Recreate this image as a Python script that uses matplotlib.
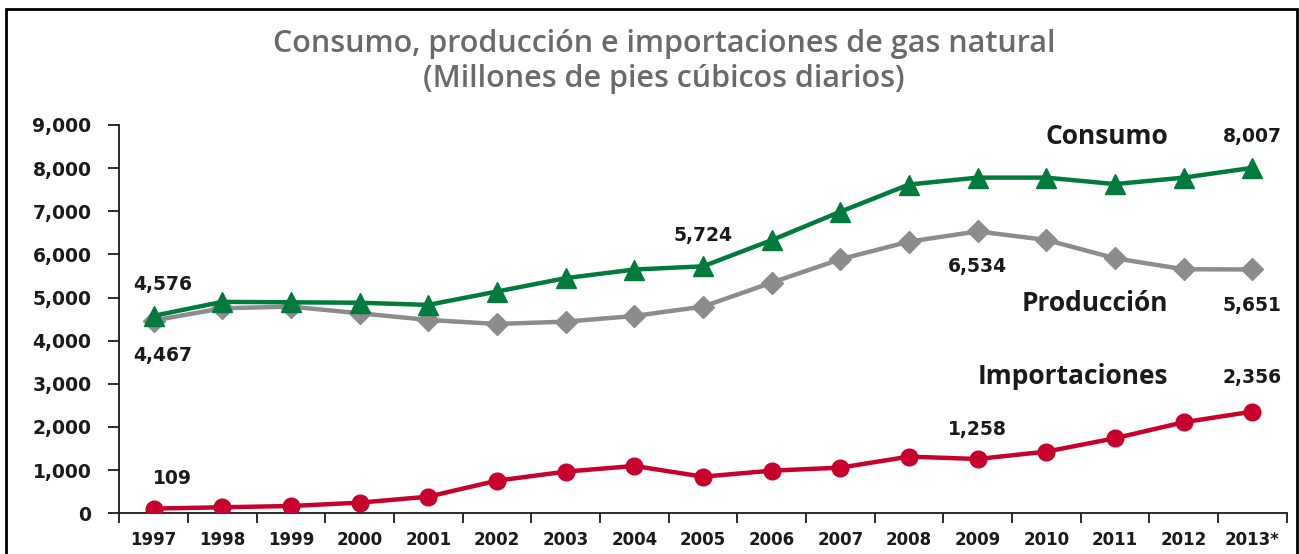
import matplotlib

matplotlib.use("Agg")

import matplotlib.pyplot as plt  # noqa: E402
from matplotlib.patches import Rectangle  # noqa: E402
from matplotlib.ticker import FixedLocator, FuncFormatter  # noqa: E402

plt.rcParams["font.family"] = ["DejaVu Sans"]

years = ["1997", "1998", "1999", "2000", "2001", "2002", "2003", "2004", "2005",
         "2006", "2007", "2008", "2009", "2010", "2011", "2012", "2013*"]
consumo = [4576, 4900, 4890, 4880, 4830, 5140, 5450, 5650, 5724,
           6330, 6990, 7620, 7780, 7780, 7630, 7780, 8007]
produccion = [4467, 4752, 4790, 4636, 4481, 4388, 4442, 4573, 4790,
              5346, 5888, 6296, 6534, 6335, 5911, 5656, 5651]
importaciones = [109, 139, 169, 246, 385, 756, 965, 1097, 849,
                 988, 1058, 1313, 1258, 1429, 1739, 2110, 2356]

GREEN = "#007a3d"
GREY = "#8c8c8c"
RED = "#c8002d"
TITLE_GREY = "#6a6a6a"
INK = "#1a1a1a"

fig = plt.figure(figsize=(12.99, 5.54), dpi=100)
ax = fig.add_axes([0.0918, 0.0735, 0.8987, 0.7009])

x = list(range(len(years)))
ax.plot(x, produccion, color=GREY, lw=3.2, marker="D", ms=11.5, zorder=2)
ax.plot(x, consumo, color=GREEN, lw=3.2, marker="^", ms=14, zorder=3)
ax.plot(x, importaciones, color=RED, lw=3.2, marker="o", ms=12, zorder=3)

ax.set_xlim(-0.5, len(years) - 0.5)
ax.set_ylim(0, 9000)

# ticks between the categories, labels in the middle
ax.xaxis.set_major_locator(FixedLocator([i - 0.5 for i in range(len(years) + 1)]))
ax.xaxis.set_minor_locator(FixedLocator(x))
ax.xaxis.set_major_formatter(FuncFormatter(lambda v, p: ""))
ax.xaxis.set_minor_formatter(FuncFormatter(lambda v, p: years[int(round(v))]))
ax.tick_params(axis="x", which="major", length=7.5, width=1.3, color=INK)
ax.tick_params(axis="x", which="minor", length=0, pad=13, labelsize=12,
               labelcolor=INK)
for lab in ax.get_xticklabels(minor=True):
    lab.set_fontweight("bold")

ax.set_yticks(range(0, 9001, 1000))
ax.yaxis.set_major_formatter(FuncFormatter(lambda v, p: f"{int(v):,}"))
ax.tick_params(axis="y", length=8, width=1.3, color=INK, pad=12,
               labelsize=13.5, labelcolor=INK)
for lab in ax.get_yticklabels():
    lab.set_fontweight("bold")

for side in ("top", "right"):
    ax.spines[side].set_visible(False)
for side in ("left", "bottom"):
    ax.spines[side].set_color(INK)
    ax.spines[side].set_linewidth(1.3)

num_style = dict(fontsize=13.5, fontweight="bold", color=INK,
                 ha="center", va="center", family="DejaVu Sans")
ax.text(0.13, 5292, f"{consumo[0]:,}", **num_style)
ax.text(0.13, 3657, f"{produccion[0]:,}", **num_style)
ax.text(0.27, 795, f"{importaciones[0]:,}", **num_style)
ax.text(8, 6435, f"{consumo[8]:,}", **num_style)
ax.text(12, 5710, f"{produccion[12]:,}", **num_style)
ax.text(12, 1931, f"{importaciones[12]:,}", **num_style)
ax.text(16, 8723, f"{consumo[-1]:,}", **num_style)
ax.text(16, 4812, f"{produccion[-1]:,}", **num_style)
ax.text(16, 3136, f"{importaciones[-1]:,}", **num_style)

name_style = dict(fontsize=19, fontweight="bold", color=INK,
                  ha="right", va="center", family="Open Sans")
ax.text(14.77, 8723, "Consumo", **name_style)
ax.text(14.77, 4870, "Producción", **name_style)
ax.text(14.77, 3160, "Importaciones", **name_style)

fig.text(0.511, 1 - 44 / 554, "Consumo, producción e importaciones de gas natural",
         ha="center", va="center", fontsize=22, color=TITLE_GREY,
         family="Open Sans", fontweight="semibold")
fig.text(0.511, 1 - 79 / 554, "(Millones de pies cúbicos diarios)",
         ha="center", va="center", fontsize=22, color=TITLE_GREY,
         family="Open Sans", fontweight="semibold")

fig.patches.append(Rectangle((6 / 1299, -0.1), 1291 / 1299, 1.1 - 9 / 554,
                             transform=fig.transFigure, fill=False,
                             edgecolor="black", linewidth=2, clip_on=False))

fig.savefig("out.png", dpi=100, facecolor="white")
